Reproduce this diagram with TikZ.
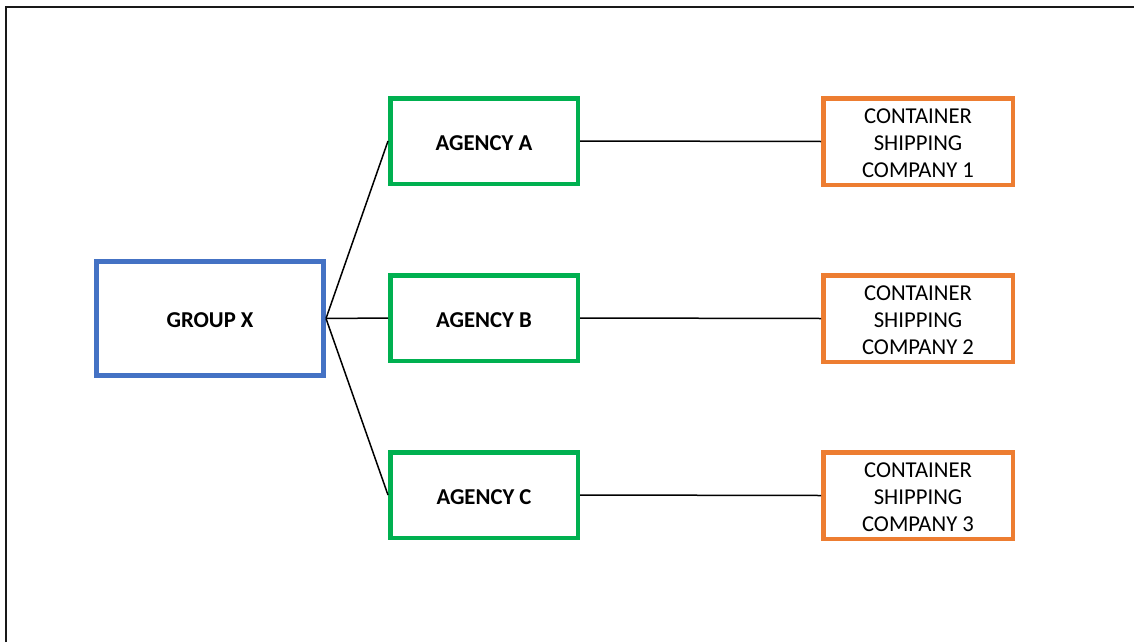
\documentclass[tikz,border=0pt]{standalone}
\usepackage{fontspec}
\setmainfont{Carlito}
\definecolor{groupblue}{HTML}{4472C4}
\definecolor{agencygreen}{HTML}{00B050}
\definecolor{companyorange}{HTML}{ED7D31}

\begin{document}
\begin{tikzpicture}[x=1pt, y=-1pt,
    every node/.style={inner sep=0pt, font=\fontsize{22.7}{27}\selectfont},
    groupbox/.style={draw=groupblue, line width=5pt, minimum width=227pt, minimum height=114pt, text height=20pt, text depth=1.4pt, font=\fontsize{22.7}{27}\selectfont\bfseries},
    agencybox/.style={draw=agencygreen, line width=4.5pt, minimum width=187.5pt, minimum height=85.5pt, text height=20pt, text depth=1.4pt, font=\fontsize{22.7}{27}\selectfont\bfseries},
    companybox/.style={draw=companyorange, line width=4.5pt, minimum width=189.5pt, minimum height=86.5pt, align=center}]
            \useasboundingbox (0,0) rectangle (1134,642);
            \draw[line width=2pt, black!90] (6,642) -- (6,7) -- (1134,7);
            \node[groupbox] (gx) at (210, 318.5) {GROUP X};
            \foreach \i/\y/\n in {A/141/1, B/318/2, C/495/3} {
                \node[agencybox] (ag\i) at (484, \y) {AGENCY \i};
                \node[companybox] (co\n) at (918, \y+0.5) {\rule{0pt}{19pt}CONTAINER\\SHIPPING\\COMPANY \n};
                \draw[line width=1.5pt] (gx.east)--(ag\i.west) (ag\i.east)--(co\n.west);
            }
        \end{tikzpicture}
\end{document}
